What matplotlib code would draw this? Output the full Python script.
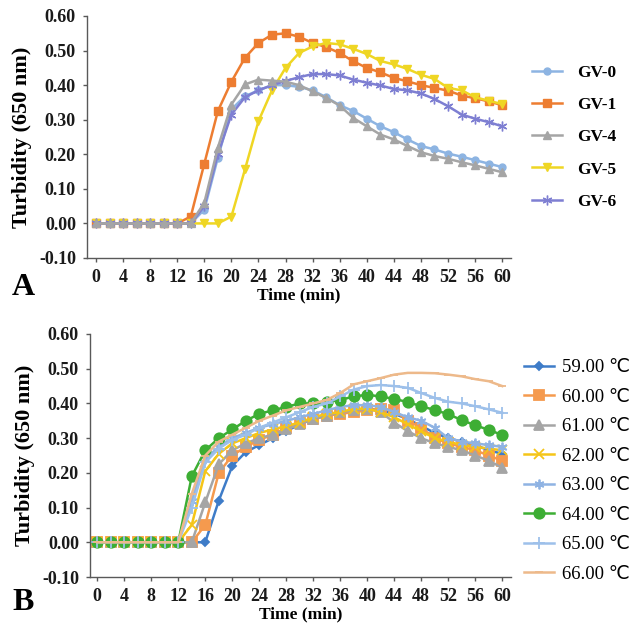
import matplotlib
matplotlib.use("Agg")
import matplotlib.pyplot as plt
import numpy as np

# ---------------- data ----------------
time_min = list(range(0, 62, 2))
x_ticks = list(range(0, 61, 4))
y_ticks = [-0.10, 0.00, 0.10, 0.20, 0.30, 0.40, 0.50, 0.60]

z8 = [0.0] * 8  # t = 0..14

gv0 = z8 + [0.04, 0.19, 0.33, 0.368, 0.385, 0.40, 0.40, 0.395, 0.385, 0.365, 0.342, 0.325,
            0.303, 0.281, 0.264, 0.243, 0.224, 0.214, 0.202, 0.193, 0.183, 0.173, 0.163]
gv1 = [0.0] * 7 + [0.02, 0.173, 0.325, 0.41, 0.479, 0.522, 0.546, 0.55, 0.54, 0.522, 0.51, 0.493,
                   0.469, 0.45, 0.437, 0.421, 0.411, 0.40, 0.392, 0.384, 0.37, 0.362, 0.353, 0.342]
gv4 = z8 + [0.06, 0.219, 0.344, 0.402, 0.416, 0.413, 0.41, 0.40, 0.382, 0.363, 0.341, 0.305,
            0.281, 0.257, 0.243, 0.224, 0.206, 0.195, 0.187, 0.177, 0.168, 0.158, 0.148]
gv5 = z8 + [0.0, 0.0, 0.02, 0.156, 0.296, 0.385, 0.45, 0.493, 0.512, 0.522, 0.518, 0.505,
            0.49, 0.47, 0.46, 0.447, 0.43, 0.418, 0.392, 0.385, 0.365, 0.355, 0.345]
gv6 = z8 + [0.05, 0.20, 0.315, 0.365, 0.385, 0.40, 0.412, 0.423, 0.432, 0.432, 0.428, 0.416,
            0.407, 0.399, 0.389, 0.385, 0.376, 0.36, 0.339, 0.315, 0.303, 0.293, 0.281]

top_labels = ["GV-0", "GV-1", "GV-4", "GV-5", "GV-6"]

t59 = [0.0] * 9 + [0.12, 0.22, 0.26, 0.28, 0.30, 0.32, 0.34, 0.355, 0.365, 0.375, 0.38, 0.385,
                   0.38, 0.37, 0.355, 0.335, 0.315, 0.30, 0.29, 0.28, 0.265, 0.255]
t60 = z8 + [0.05, 0.20, 0.25, 0.275, 0.295, 0.31, 0.33, 0.345, 0.355, 0.365, 0.37, 0.375, 0.38,
            0.385, 0.38, 0.35, 0.33, 0.30, 0.285, 0.275, 0.265, 0.25, 0.235]
t61 = z8 + [0.115, 0.225, 0.265, 0.285, 0.30, 0.31, 0.325, 0.34, 0.355, 0.365, 0.375, 0.38, 0.385,
            0.375, 0.345, 0.32, 0.30, 0.285, 0.275, 0.265, 0.25, 0.235, 0.215]
t62 = [0.0] * 7 + [0.05, 0.205, 0.255, 0.285, 0.30, 0.315, 0.325, 0.335, 0.345, 0.36, 0.37, 0.375,
                   0.385, 0.385, 0.375, 0.36, 0.34, 0.32, 0.30, 0.29, 0.28, 0.275, 0.27, 0.265]
t63 = [0.0] * 7 + [0.12, 0.24, 0.275, 0.30, 0.315, 0.33, 0.34, 0.35, 0.36, 0.37, 0.38, 0.39,
                   0.395, 0.395, 0.39, 0.375, 0.36, 0.35, 0.33, 0.30, 0.29, 0.285, 0.28, 0.275]
t64 = [0.0] * 7 + [0.19, 0.265, 0.30, 0.325, 0.35, 0.37, 0.38, 0.39, 0.40, 0.40, 0.405, 0.41,
                   0.42, 0.425, 0.42, 0.413, 0.404, 0.392, 0.381, 0.369, 0.352, 0.337, 0.324, 0.309]
t65 = [0.0] * 7 + [0.10, 0.23, 0.27, 0.295, 0.31, 0.33, 0.345, 0.36, 0.375, 0.39, 0.40, 0.42,
                   0.44, 0.45, 0.453, 0.45, 0.445, 0.43, 0.416, 0.405, 0.40, 0.392, 0.383, 0.373]
t66 = [0.0] * 7 + [0.14, 0.25, 0.29, 0.31, 0.33, 0.35, 0.365, 0.38, 0.39, 0.40, 0.41, 0.43,
                   0.455, 0.464, 0.473, 0.483, 0.488, 0.488, 0.487, 0.483, 0.478, 0.47, 0.464, 0.45]

bottom_labels = ["59.00 ℃", "60.00 ℃", "61.00 ℃", "62.00 ℃",
                 "63.00 ℃", "64.00 ℃", "65.00 ℃", "66.00 ℃"]

# ---------------- style ----------------
serif = ["Liberation Serif", "DejaVu Serif"]
plt.rcParams["font.family"] = serif
axis_col = "#595959"

fig = plt.figure(figsize=(6.34, 6.24), dpi=100)
fig.patch.set_facecolor("white")

ax1 = fig.add_axes([87 / 634, 1 - 258 / 624, 424 / 634, 242 / 624])
ax2 = fig.add_axes([90 / 634, 1 - 577 / 624, 421 / 634, 243 / 624])


def style_axes(ax, xlim):
    ax.set_xlim(*xlim)
    ax.set_ylim(-0.10, 0.60)
    ax.set_xticks(x_ticks)
    ax.set_yticks(y_ticks)
    ax.set_yticklabels([f"{v:.2f}" for v in y_ticks])
    for s in ["top", "right"]:
        ax.spines[s].set_visible(False)
    for s in ["left", "bottom"]:
        ax.spines[s].set_color(axis_col)
        ax.spines[s].set_linewidth(1.0)
    ax.tick_params(axis="both", direction="out", length=3, width=1, color=axis_col,
                   labelsize=13, pad=5)
    for lab in ax.get_xticklabels() + ax.get_yticklabels():
        lab.set_fontweight("bold")
        lab.set_color("#1a1a1a")
    ax.set_xlabel("Time (min)", fontsize=12.5, fontweight="bold", labelpad=1)
    ax.set_ylabel("Turbidity (650 nm)", fontsize=16, fontweight="bold", labelpad=5)


# ---- top panel ----
top_series = [gv0, gv1, gv4, gv5, gv6]
top_colors = ["#8DB4E2", "#ED7D31", "#A5A5A5", "#EFD624", "#7E7FD2"]
top_markers = ["o", "s", "^", "v", (6, 2, 0)]
top_msize = [5, 6, 6, 6, 7]
top_z = [3, 3, 6, 4, 5]
for y, c, m, ms, lab, zz in zip(top_series, top_colors, top_markers, top_msize, top_labels, top_z):
    ax1.plot(time_min, y, color=c, marker=m, markersize=ms, linewidth=1.8, label=lab,
             markeredgecolor=c, markeredgewidth=1.0, zorder=zz)
style_axes(ax1, (-1.33, 61.3))

h, l = ax1.get_legend_handles_labels()
ax1.legend(h, l, loc="upper left", bbox_to_anchor=(532 / 634, 1 - 65 / 624),
           bbox_transform=fig.transFigure, frameon=False,
           prop={"family": serif, "weight": "bold", "size": 12.5},
           handlelength=1.7, handletextpad=0.9, labelspacing=0.92, borderpad=0, borderaxespad=0)

# ---- bottom panel ----
bot_series = [t59, t60, t61, t62, t63, t64, t65, t66]
bot_colors = ["#3E7CC8", "#F59A4E", "#A5A5A5", "#F5C518", "#8FB3E3", "#3DAE34", "#9DC0EA", "#EDB98A"]
bot_markers = ["D", "s", "^", "x", (6, 2, 0), "o", "+", "_"]
bot_msize = [4.5, 7, 6.5, 7, 7, 7.5, 9, 6]
for y, c, m, ms, lab in zip(bot_series, bot_colors, bot_markers, bot_msize, bottom_labels):
    ax2.plot(time_min, y, color=c, marker=m, markersize=ms, linewidth=1.8, label=lab,
             markeredgecolor=c, markeredgewidth=1.3)
style_axes(ax2, (-1.08, 61.3))

h, l = ax2.get_legend_handles_labels()
ax2.legend(h, l, loc="upper left", bbox_to_anchor=(524 / 634, 1 - 359 / 624),
           bbox_transform=fig.transFigure, frameon=False,
           prop={"family": ["Liberation Serif", "DejaVu Sans"], "size": 13.5},
           handlelength=1.6, handletextpad=0.45, labelspacing=0.66, borderpad=0, borderaxespad=0)

# panel letters
fig.text(12 / 634, 1 - 302 / 624, "A", fontsize=23, fontweight="bold", ha="left", va="bottom")
fig.text(12 / 634, 1 - 617 / 624, "B", fontsize=23, fontweight="bold", ha="left", va="bottom")

fig.savefig("out.png", dpi=100, facecolor="white")
